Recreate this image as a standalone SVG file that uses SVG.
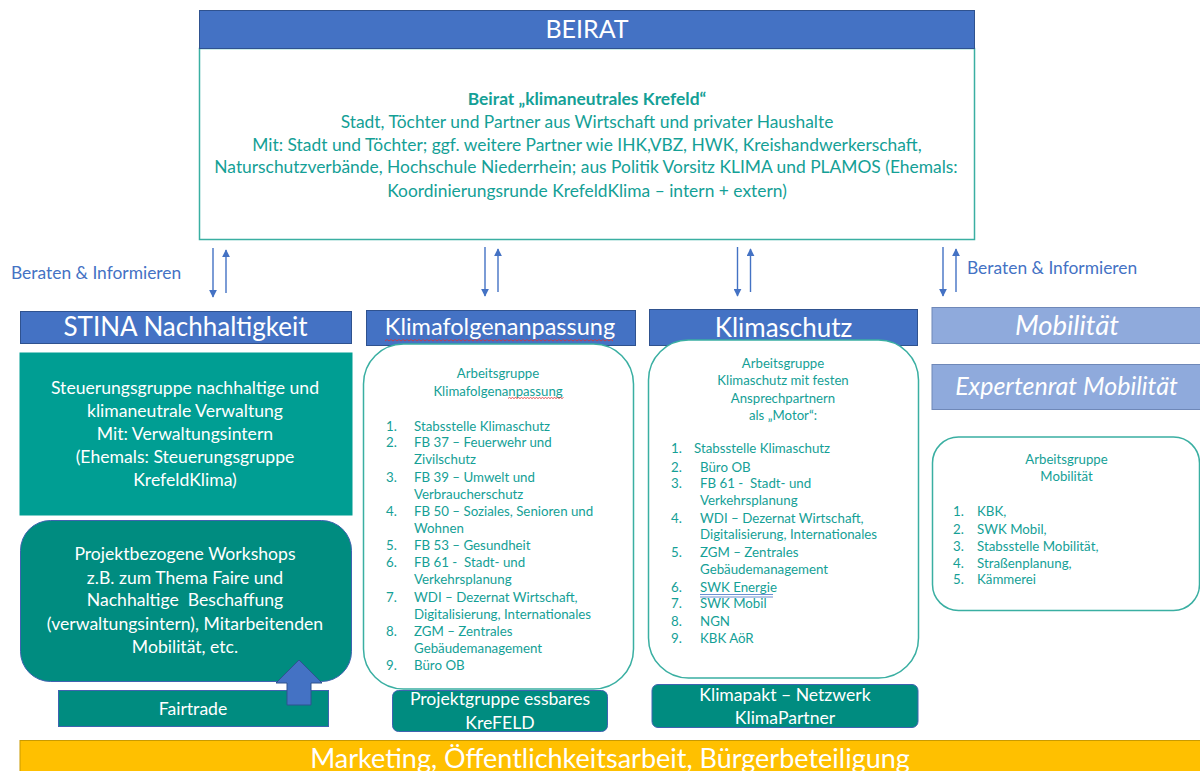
<svg xmlns="http://www.w3.org/2000/svg" width="1200" height="771" viewBox="0 0 1200 771">
  <style>
    text { font-family: "Lato", "Liberation Sans", sans-serif; }
    .hdr { fill: #4472C4; stroke: #2F528F; stroke-width: 1; }
    .hdr-light { fill: #8FAADC; stroke: #6F88B8; stroke-width: 1; }
    .hdr-txt { fill: #ffffff; font-size: 26px; text-anchor: middle; }
    .teal-box { fill: #009E93; stroke: #009E93; }
    .teal-dark { fill: #008C80; stroke: #3F63B0; stroke-width: 1; }
    .ag { fill: #ffffff; stroke: #3AAFA2; stroke-width: 1.5; }
    .t { fill: #14A096; font-size: 17.4px; text-anchor: middle; }
    .w { fill: #ffffff; font-size: 17.6px; text-anchor: middle; }
    .s { fill: #14A096; font-size: 13.3px; }
    .sc { fill: #14A096; font-size: 13.2px; text-anchor: middle; }
    .lbl { fill: #4472C4; font-size: 17.4px; }
    .conn line { stroke: #4472C4; stroke-width: 1.4; }
    .squiggle { fill: none; stroke: #E03030; stroke-width: 0.8; }
  </style>
  <defs>
    <marker id="ah" viewBox="0 0 10 10" refX="9" refY="5" markerWidth="8" markerHeight="8" markerUnits="userSpaceOnUse" orient="auto">
      <path d="M0,0 L10,5 L0,10 z" fill="#4472C4"/>
    </marker>
  </defs>

  <!-- Beirat -->
  <g id="beirat">
    <rect x="199.5" y="48.5" width="775" height="191" fill="#ffffff" stroke="#3AAFA2" stroke-width="1.5"/>
    <rect x="199.5" y="10.5" width="775" height="38" class="hdr"/>
    <text x="587" y="38" class="hdr-txt" style="font-size:25px">BEIRAT</text>
    <text x="587" y="104.5" class="t" font-weight="bold">Beirat „klimaneutrales Krefeld“</text>
    <text x="587" y="128" class="t">Stadt, Töchter und Partner aus Wirtschaft und privater Haushalte</text>
    <text x="587" y="150.5" class="t">Mit: Stadt und Töchter; ggf. weitere Partner wie IHK,VBZ, HWK, Kreishandwerkerschaft,</text>
    <text x="586" y="173" class="t">Naturschutzverbände, Hochschule Niederrhein; aus Politik Vorsitz KLIMA und PLAMOS (Ehemals:</text>
    <text x="587" y="197" class="t">Koordinierungsrunde KrefeldKlima – intern + extern)</text>
  </g>

  <!-- connectors between Beirat and the columns -->
  <g id="connectors" class="conn">
    <line x1="213" y1="248" x2="213" y2="297" marker-end="url(#ah)"/>
    <line x1="226" y1="293" x2="226" y2="250" marker-end="url(#ah)"/>
    <line x1="485" y1="247" x2="485" y2="296" marker-end="url(#ah)"/>
    <line x1="498" y1="292" x2="498" y2="249" marker-end="url(#ah)"/>
    <line x1="737.5" y1="247" x2="737.5" y2="296" marker-end="url(#ah)"/>
    <line x1="750.5" y1="292" x2="750.5" y2="249" marker-end="url(#ah)"/>
    <line x1="943" y1="247" x2="943" y2="296" marker-end="url(#ah)"/>
    <line x1="956" y1="292" x2="956" y2="249" marker-end="url(#ah)"/>
  </g>
  <text x="11" y="279" class="lbl">Beraten &amp; Informieren</text>
  <text x="967" y="274" class="lbl">Beraten &amp; Informieren</text>

  <!-- STINA column -->
  <g id="stina">
    <rect x="20.5" y="311.5" width="331" height="32" class="hdr"/>
    <text x="185.5" y="336" class="hdr-txt">STINA Nachhaltigkeit</text>
  </g>
  <g id="steuerungsgruppe">
    <rect x="20" y="353" width="332" height="162" class="teal-box"/>
    <text x="185" y="394" class="w">Steuerungsgruppe nachhaltige und</text>
    <text x="185" y="417" class="w">klimaneutrale Verwaltung</text>
    <text x="185" y="439.5" class="w">Mit: Verwaltungsintern</text>
    <text x="185" y="463" class="w">(Ehemals: Steuerungsgruppe</text>
    <text x="185" y="486" class="w">KrefeldKlima)</text>
  </g>
  <g id="workshops">
    <rect x="20.5" y="520.5" width="331" height="161" rx="30" class="teal-dark"/>
    <text x="185" y="560" class="w">Projektbezogene Workshops</text>
    <text x="185" y="583.5" class="w">z.B. zum Thema Faire und</text>
    <text x="185" y="606" class="w" xml:space="preserve">Nachhaltige  Beschaffung</text>
    <text x="185" y="629.5" class="w">(verwaltungsintern), Mitarbeitenden</text>
    <text x="185" y="652.5" class="w">Mobilität, etc.</text>
  </g>
  <g id="fairtrade">
    <rect x="58.5" y="690.5" width="270" height="36" class="teal-dark"/>
    <text x="193" y="714.5" class="w">Fairtrade</text>
    <path d="M299,660 L322,683 L311,683 L311,705 L287,705 L287,683 L276,683 Z" fill="#4472C4" stroke="#2F528F" stroke-width="1"/>
  </g>

  <!-- Klimafolgenanpassung column -->
  <g id="klimafolgenanpassung">
    <rect x="366.5" y="310.5" width="269" height="35" class="hdr"/>
    <text x="500" y="335" class="hdr-txt" style="font-size:23.5px">Klimafolgenanpassung</text>
    <path class="squiggle" d="M385,341 l2,-1.5 l2,1.5 l2,-1.5 l2,1.5 l2,-1.5 l2,1.5 l2,-1.5 l2,1.5 l2,-1.5 l2,1.5 l2,-1.5 l2,1.5 l2,-1.5 l2,1.5 l2,-1.5 l2,1.5 l2,-1.5 l2,1.5 l2,-1.5 l2,1.5
      l2,-1.5 l2,1.5 l2,-1.5 l2,1.5 l2,-1.5 l2,1.5 l2,-1.5 l2,1.5 l2,-1.5 l2,1.5 l2,-1.5 l2,1.5 l2,-1.5 l2,1.5 l2,-1.5 l2,1.5 l2,-1.5 l2,1.5 l2,-1.5 l2,1.5
      l2,-1.5 l2,1.5 l2,-1.5 l2,1.5 l2,-1.5 l2,1.5 l2,-1.5 l2,1.5 l2,-1.5 l2,1.5 l2,-1.5 l2,1.5 l2,-1.5 l2,1.5 l2,-1.5 l2,1.5 l2,-1.5 l2,1.5 l2,-1.5 l2,1.5
      l2,-1.5 l2,1.5 l2,-1.5 l2,1.5 l2,-1.5 l2,1.5 l2,-1.5 l2,1.5 l2,-1.5 l2,1.5 l2,-1.5 l2,1.5 l2,-1.5 l2,1.5 l2,-1.5 l2,1.5 l2,-1.5 l2,1.5 l2,-1.5 l2,1.5
      l2,-1.5 l2,1.5 l2,-1.5 l2,1.5 l2,-1.5 l2,1.5 l2,-1.5 l2,1.5 l2,-1.5 l2,1.5 l2,-1.5 l2,1.5 l2,-1.5 l2,1.5 l2,-1.5 l2,1.5 l2,-1.5 l2,1.5 l2,-1.5 l2,1.5
      l2,-1.5 l2,1.5 l2,-1.5 l2,1.5 l2,-1.5 l2,1.5 l2,-1.5 l2,1.5 l2,-1.5 l2,1.5 l2,-1.5 l2,1.5 l2,-1.5 l2,1.5"/>
  </g>
  <g id="ag-klimafolgenanpassung">
    <rect x="363.5" y="344" width="270" height="345" rx="40" class="ag"/>
    <text x="498" y="377.5" class="sc">Arbeitsgruppe</text>
    <text x="498" y="396" class="sc">Klimafolgenanpassung</text>
    <path class="squiggle" d="M508,398.5 l1.5,-1 l1.5,1 l1.5,-1 l1.5,1 l1.5,-1 l1.5,1 l1.5,-1 l1.5,1 l1.5,-1 l1.5,1 l1.5,-1 l1.5,1 l1.5,-1 l1.5,1 l1.5,-1 l1.5,1 l1.5,-1 l1.5,1 l1.5,-1 l1.5,1 l1.5,-1 l1.5,1 l1.5,-1 l1.5,1 l1.5,-1 l1.5,1 l1.5,-1 l1.5,1 l1.5,-1 l1.5,1 l1.5,-1 l1.5,1 l1.5,-1 l1.5,1 l1.5,-1 l1.5,1 l1.5,-1"/>
    <g class="s">
      <text x="386" y="430.5">1.</text><text x="414" y="430.5">Stabsstelle Klimaschutz</text>
      <text x="386" y="446.5">2.</text><text x="414" y="446.5">FB 37 – Feuerwehr und</text>
      <text x="414" y="464">Zivilschutz</text>
      <text x="386" y="481.5">3.</text><text x="414" y="481.5">FB 39 – Umwelt und</text>
      <text x="414" y="498.5">Verbraucherschutz</text>
      <text x="386" y="516">4.</text><text x="414" y="516">FB 50 – Soziales, Senioren und</text>
      <text x="414" y="532.5">Wohnen</text>
      <text x="386" y="550">5.</text><text x="414" y="550">FB 53 – Gesundheit</text>
      <text x="386" y="567">6.</text><text x="414" y="567" xml:space="preserve">FB 61 -  Stadt- und</text>
      <text x="414" y="584">Verkehrsplanung</text>
      <text x="386" y="602">7.</text><text x="414" y="602">WDI – Dezernat Wirtschaft,</text>
      <text x="414" y="619">Digitalisierung, Internationales</text>
      <text x="386" y="636">8.</text><text x="414" y="636">ZGM – Zentrales</text>
      <text x="414" y="653">Gebäudemanagement</text>
      <text x="386" y="670">9.</text><text x="414" y="670">Büro OB</text>
    </g>
  </g>
  <g id="essbares-krefeld">
    <rect x="392.5" y="690.5" width="215" height="41" rx="6" class="teal-dark"/>
    <text x="500" y="705" class="w">Projektgruppe essbares</text>
    <text x="500" y="728.5" class="w">KreFELD</text>
  </g>

  <!-- Klimaschutz column -->
  <g id="klimaschutz">
    <rect x="649.5" y="309.5" width="268" height="36" class="hdr"/>
    <text x="783.5" y="336.5" class="hdr-txt">Klimaschutz</text>
  </g>
  <g id="ag-klimaschutz">
    <rect x="648.5" y="340" width="270" height="338" rx="40" class="ag"/>
    <text x="783" y="367.5" class="sc">Arbeitsgruppe</text>
    <text x="783" y="385" class="sc">Klimaschutz mit festen</text>
    <text x="783" y="402.5" class="sc">Ansprechpartnern</text>
    <text x="783" y="420" class="sc">als „Motor“:</text>
    <g class="s">
      <text x="671" y="453">1.</text><text x="694" y="453">Stabsstelle Klimaschutz</text>
      <text x="671" y="471.5">2.</text><text x="700" y="471.5">Büro OB</text>
      <text x="671" y="487.5">3.</text><text x="700" y="487.5" xml:space="preserve">FB 61 -  Stadt- und</text>
      <text x="700" y="505">Verkehrsplanung</text>
      <text x="671" y="522.5">4.</text><text x="700" y="522.5">WDI – Dezernat Wirtschaft,</text>
      <text x="700" y="539">Digitalisierung, Internationales</text>
      <text x="671" y="556.5">5.</text><text x="700" y="556.5">ZGM – Zentrales</text>
      <text x="700" y="573.5">Gebäudemanagement</text>
      <text x="671" y="591.5">6.</text><text x="700" y="591.5">SWK Energie</text>
      <text x="671" y="608">7.</text><text x="700" y="608">SWK Mobil</text>
      <text x="671" y="625.5">8.</text><text x="700" y="625.5">NGN</text>
      <text x="671" y="643">9.</text><text x="700" y="643">KBK AöR</text>
    </g>
    <path d="M700,594.5 H773 M700,597 H773" stroke="#4472C4" stroke-width="0.8" fill="none"/>
  </g>
  <g id="klimapakt">
    <rect x="652" y="684.5" width="266" height="43" rx="6" class="teal-dark"/>
    <text x="785" y="701" class="w">Klimapakt – Netzwerk</text>
    <text x="785" y="723.5" class="w">KlimaPartner</text>
  </g>

  <!-- Mobilität column -->
  <g id="mobilitaet">
    <rect x="932" y="307.5" width="270" height="36" class="hdr-light"/>
    <text x="1067" y="335" class="hdr-txt" style="font-size:27.5px" font-style="italic">Mobilität</text>
  </g>
  <g id="expertenrat">
    <rect x="932" y="364.5" width="270" height="45" class="hdr-light"/>
    <text x="1066.5" y="395" class="hdr-txt" style="font-size:25px" font-style="italic">Expertenrat Mobilität</text>
  </g>
  <g id="ag-mobilitaet">
    <rect x="932.5" y="437" width="267" height="173.5" rx="26" class="ag"/>
    <text x="1066.5" y="464" class="sc">Arbeitsgruppe</text>
    <text x="1066.5" y="481" class="sc">Mobilität</text>
    <g class="s">
      <text x="953" y="516">1.</text><text x="977" y="516">KBK,</text>
      <text x="953" y="533.5">2.</text><text x="977" y="533.5">SWK Mobil,</text>
      <text x="953" y="550.5">3.</text><text x="977" y="550.5">Stabsstelle Mobilität,</text>
      <text x="953" y="568">4.</text><text x="977" y="568">Straßenplanung,</text>
      <text x="953" y="584">5.</text><text x="977" y="584">Kämmerei</text>
    </g>
  </g>

  <!-- Marketing bar -->
  <g id="marketing">
    <rect x="20" y="740.5" width="1190" height="40" fill="#FFC000" stroke="#C99A00" stroke-width="1"/>
    <text x="610" y="768" class="hdr-txt" style="font-size:27px">Marketing, Öffentlichkeitsarbeit, Bürgerbeteiligung</text>
  </g>
</svg>
